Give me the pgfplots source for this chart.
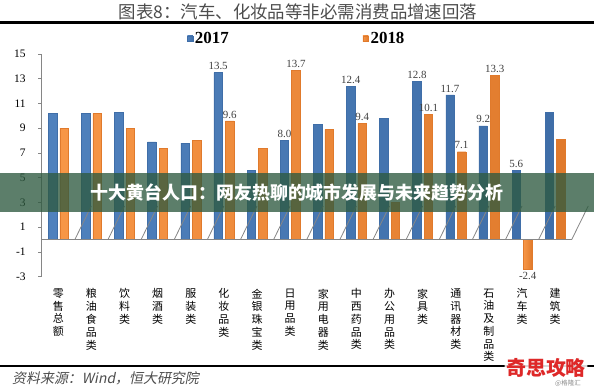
\documentclass[border=0pt]{standalone}
\usepackage{pgfplots}
\pgfplotsset{compat=1.18}
\usepackage{pgfplotstable}
\usepackage{fontspec}
\setmainfont{Liberation Serif}
\newfontfamily\cjk{Noto Sans CJK SC}
\newfontfamily\cjksl{Noto Sans CJK SC}[FakeSlant=0.2]
\definecolor{bluedark}{HTML}{3F6EA8}
\definecolor{bluemid}{HTML}{9CBCE3}
\definecolor{blueedge}{HTML}{4F81BD}
\definecolor{orgdark}{HTML}{E07A2C}
\definecolor{orgmid}{HTML}{FBC597}
\definecolor{orgedge}{HTML}{F79646}
\definecolor{axisgray}{HTML}{868686}
\definecolor{labgray}{HTML}{404040}
\definecolor{bannergreen}{HTML}{2E5A40}

\pgfplotstableread{
x y lab
0 10.2 {}
1 10.2 {}
2 10.3 {}
3 7.9 {}
4 7.8 {}
5 13.5 13.5
6 5.6 {}
7 8.0 8.0
8 9.3 {}
9 12.4 12.4
10 9.8 {}
11 12.8 12.8
12 11.7 11.7
13 9.2 9.2
14 5.6 5.6
15 10.3 {}
}\tableA

\pgfplotstableread{
x y lab
0 9.0 {}
1 10.2 {}
2 9.0 {}
3 7.4 {}
4 8.0 {}
5 9.6 9.6
6 7.4 {}
7 13.7 13.7
8 8.9 {}
9 9.4 9.4
10 3.0 {}
11 10.1 10.1
12 7.1 7.1
13 13.3 13.3
14 -2.4 {}
15 8.1 {}
}\tableB

\pgfplotstableread{
x y lab
14 -2.4 -2.4
}\tableC

\begin{document}
\begin{tikzpicture}
\useasboundingbox (0,0) rectangle (594bp,387bp);
\begin{axis}[
  at={(41.7bp,110.3bp)}, anchor=south west,
  scale only axis, width=530bp, height=222.7bp,
  xmin=-0.5, xmax=15.5, ymin=-3, ymax=15,
  axis y line*=left, axis x line*=bottom,
  x axis line style={draw=none},
  y axis line style={draw=axisgray, line width=0.8bp, -},
  ytick={-3,-1,...,15},
  ytick style={draw=axisgray, line width=0.8bp},
  tick align=outside, major tick length=3.5bp,
  xtick={0,...,15},
  xtick style={draw=none},
  xticklabels={{零\\售\\总\\额},{粮\\油\\食\\品\\类},{饮\\料\\类},{烟\\酒\\类},{服\\装\\类},{化\\妆\\品\\类},{金\\银\\珠\\宝\\类},{日\\用\\品\\类},{家\\用\\电\\器\\类},{中\\西\\药\\品\\类},{办\\公\\用\\品\\类},{家\\具\\类},{通\\讯\\器\\材\\类},{石\\油\\及\\制\\品\\类},{汽\\车\\类},{建\\筑\\类}},
  xticklabel style={align=center, anchor=north, yshift=-5bp, font=\cjk\fontsize{11}{12.8}\selectfont},
  yticklabel style={font=\fontsize{11.5}{12}\selectfont, xshift=-9bp},
  /pgf/number format/assume math mode=true,
  ybar, bar width=8.5bp,
  nodes near coords, point meta=explicit symbolic,
  every node near coord/.append style={font=\fontsize{11}{12}\selectfont, text=labgray, inner sep=2.5bp},
  legend style={draw=none, fill=none, inner sep=0pt, at={(0.274,1.0696)}, anchor=west,
    legend columns=2, font=\bfseries\fontsize{17}{17}\selectfont,
    /tikz/every even column/.append style={column sep=132bp}},
  legend image code/.code={\fill[#1] (0bp,-3bp) rectangle (5.5bp,2.5bp);},
  clip=false,
]
\addplot[bar shift=-5.75bp, draw=bluedark, line width=0.3bp, left color=blueedge, middle color=bluemid, right color=bluedark] table[x=x,y=y,meta=lab]{\tableA};
\addplot[bar shift=5.75bp, draw=orgdark, line width=0.3bp, left color=orgedge, middle color=orgmid, right color=orgdark] table[x=x,y=y,meta=lab]{\tableB};
\legend{2017,2018}
\addplot[forget plot, bar shift=5.75bp, draw=orgdark, line width=0.3bp, left color=orgedge, middle color=orgmid, right color=orgdark,
  nodes near coords style={anchor=north}] table[x=x,y=y,meta=lab]{\tableC};
\draw[axisgray, line width=0.8bp] (axis cs:-0.5,0) -- (axis cs:15.5,0);
\pgfplotsinvokeforeach{0.5,1.5,...,15.5}{\draw[axisgray, line width=0.8bp] (axis cs:#1,0) -- ++(0,-3.5bp);}
\end{axis}
% title and rules
\node[font=\cjk\fontsize{17.5}{18}\selectfont, text=black!70] at (298bp,375bp) {图表8：汽车、化妆品等非必需消费品增速回落};
\draw[line width=2.5bp] (0,364.5bp) -- (594bp,364.5bp);
\draw[line width=2.2bp] (0,21bp) -- (594bp,21bp);
\node[anchor=west, font=\cjksl\fontsize{14}{14}\selectfont, text=black!70, inner sep=0pt] at (12bp,9bp) {资料来源：Wind，恒大研究院};
% overlay banner
\fill[bannergreen, opacity=0.78] (0,175bp) rectangle (594bp,214bp);
\node[font=\cjk\bfseries\fontsize{18}{18}\selectfont, text=white] at (297bp,194bp) {十大黄台人口：网友热聊的城市发展与未来趋势分析};
% watermark
\node[font=\cjk\bfseries\fontsize{20}{20}\selectfont, text={rgb,255:red,222;green,40;blue,40}, fill=white, fill opacity=0.85, text opacity=1, rounded corners=4bp, inner sep=1.5bp] at (546bp,19.5bp) {奇思攻略};
\node[font=\cjk\fontsize{6.5}{7}\selectfont, text=black!45] at (568bp,4bp) {@格隆汇};
\end{tikzpicture}
\end{document}
